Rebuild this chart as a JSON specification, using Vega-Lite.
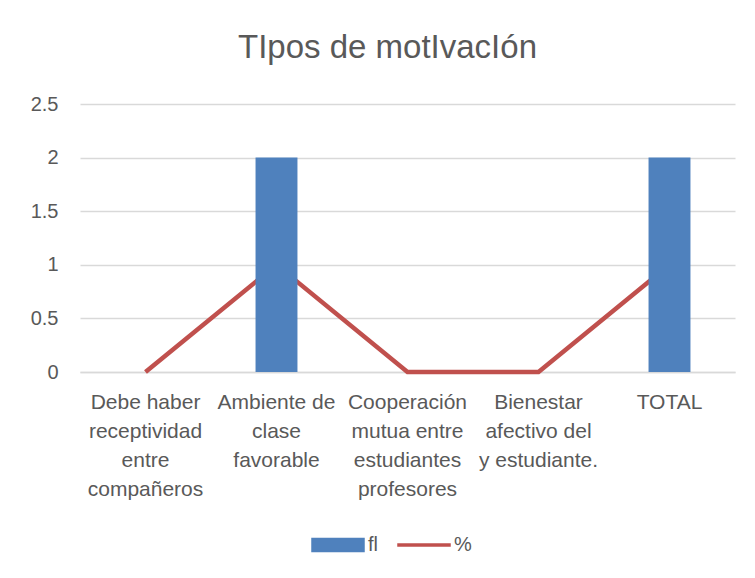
{
  "$schema": "https://vega.github.io/schema/vega-lite/v6.json",
  "autosize": "none",
  "width": 655,
  "height": 268,
  "padding": {"left": 80, "top": 104, "right": 20, "bottom": 206},
  "background": "white",
  "title": {
    "text": "TIpos de motIvacIón",
    "fontSize": 33,
    "font": "Liberation Sans, Arial",
    "fontWeight": "normal",
    "color": "#595959",
    "anchor": "middle",
    "offset": 29,
    "dx": -20
  },
  "data": {
    "values": [
      {"cat": "Debe haber|receptividad|entre|compañeros", "fl": 0, "%": 0},
      {"cat": "Ambiente de|clase|favorable", "fl": 2, "%": 1},
      {"cat": "Cooperación|mutua entre|estudiantes|profesores", "fl": 0, "%": 0},
      {"cat": "Bienestar|afectivo del|y estudiante.", "fl": 0, "%": 0},
      {"cat": "TOTAL", "fl": 2, "%": 1}
    ]
  },
  "transform": [{"fold": ["fl", "%"], "as": ["serie", "valor"]}],
  "encoding": {
    "x": {
      "field": "cat",
      "type": "nominal",
      "sort": null,
      "title": null,
      "scale": {"paddingInner": 0.68, "paddingOuter": 0.34},
      "axis": {
        "labelAngle": 0,
        "labelExpr": "split(datum.label, '|')",
        "labelFontSize": 21,
        "labelFont": "Liberation Sans, Arial",
        "labelColor": "#595959",
        "labelLineHeight": 29,
        "labelPadding": 19,
        "labelLimit": 0,
        "ticks": false,
        "domainColor": "#d9d9d9",
        "domainWidth": 1.5
      }
    },
    "y": {
      "field": "valor",
      "type": "quantitative",
      "title": null,
      "scale": {"domain": [0, 2.5]},
      "axis": {
        "values": [0, 0.5, 1, 1.5, 2, 2.5],
        "labelExpr": "format(datum.value, '~g')",
        "labelFontSize": 20,
        "labelFont": "Liberation Sans, Arial",
        "labelColor": "#595959",
        "labelPadding": 22,
        "ticks": false,
        "domain": false,
        "gridColor": "#d9d9d9",
        "gridWidth": 1.5
      }
    },
    "color": {
      "field": "serie",
      "type": "nominal",
      "scale": {"domain": ["fl", "%"], "range": ["#4f81bd", "#c0504d"]},
      "legend": {
        "title": null,
        "orient": "none",
        "legendX": 231,
        "legendY": 414,
        "direction": "horizontal",
        "labelFontSize": 20,
        "labelFont": "Liberation Sans, Arial",
        "labelColor": "#595959",
        "symbolSize": 2704,
        "columnPadding": 17,
        "labelOffset": 3,
        "encode": {
          "symbols": {
            "update": {
              "shape": {"signal": "datum.value == 'fl' ? 'M-1,-0.25H1V0.25H-1Z' : 'M-1,-0.04H1V0.04H-1Z'"},
              "fill": {"signal": "datum.value == 'fl' ? '#4f81bd' : '#c0504d'"},
              "stroke": {"value": "transparent"},
              "opacity": {"value": 1},
              "fillOpacity": {"value": 1}
            }
          }
        }
      }
    }
  },
  "layer": [
    {
      "transform": [{"filter": "datum.serie == '%'"}],
      "mark": {"type": "line", "strokeWidth": 4.5, "strokeCap": "butt"}
    },
    {
      "transform": [{"filter": "datum.serie == 'fl'"}],
      "mark": {"type": "bar"}
    }
  ],
  "config": {"view": {"stroke": null}}
}
